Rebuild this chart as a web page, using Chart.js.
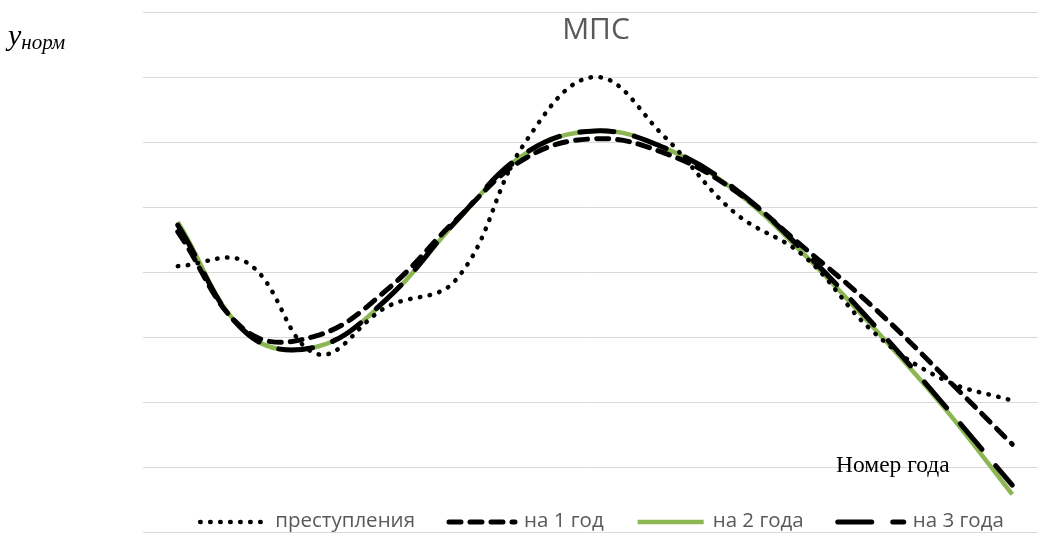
<!DOCTYPE html>
<html>
<head>
<meta charset="utf-8">
<script src="https://cdn.jsdelivr.net/npm/chart.js@4.4.0/dist/chart.umd.min.js"></script>
<style>
  body { margin: 0; background: #fff; }
  #wrap { position: relative; width: 1038px; height: 536px; }
  #title { position: absolute; left: 540px; width: 112px; top: 7px; text-align: center;
           font: 30px "Open Sans", sans-serif; color: #595959; }
  #ylab { position: absolute; left: 8px; top: 18px; font: italic 30px "Liberation Serif", serif; color: #000; }
  #ylab sub { font-size: 21px; vertical-align: -4px; }
  #xlab { position: absolute; left: 836px; top: 451px; font: 23.5px "Liberation Serif", serif; color: #000; }
</style>
</head>
<body>
<div id="wrap">
  <canvas id="myChart" width="1038" height="536"></canvas>
  <div id="title">МПС</div>
  <div id="ylab">y<sub>норм</sub></div>
  <div id="xlab">Номер года</div>
</div>
<script>
// year numbers
const years = [1, 2, 3, 4, 5, 6, 7, 8, 9, 10, 11, 12, 13];

// values (normalised units, grid step = 1)
const crimes = [4.09, 4.14, 2.74, 3.46, 3.88, 6.0, 7.0, 6.08, 4.92, 4.25, 3.08, 2.35, 2.02];
const forecast1 = [4.62, 3.08, 3.02, 3.72, 4.8, 5.75, 6.05, 5.83, 5.26, 4.38, 3.46, 2.42, 1.35];
const forecast2 = [4.77, 3.05, 2.85, 3.57, 4.77, 5.82, 6.17, 5.91, 5.26, 4.28, 3.15, 1.94, 0.58];
const forecast3 = [4.72, 3.05, 2.85, 3.58, 4.78, 5.83, 6.17, 5.91, 5.29, 4.32, 3.2, 1.98, 0.72];

const seriesNames = ["преступления", "на 1 год", "на 2 года", "на 3 года"];

function pts(arr) {
    return arr.map((v, i) => ({ x: years[i], y: v }));
}

// legend drawn at the bottom, over the plot area like in the original
const bottomLegend = {
    id: 'bottomLegend',
    afterDraw(chart) {
        const ctx = chart.ctx;
        const sampleW = 70, textGap = 7, itemGap = 32, yMid = 521;
        ctx.save();
        ctx.font = '20.5px "Open Sans", sans-serif';
        ctx.textBaseline = 'middle';
        const sets = chart.data.datasets;
        let total = 0;
        sets.forEach((ds, i) => {
            total += sampleW + textGap + ctx.measureText(ds.label).width;
            if (i < sets.length - 1) total += itemGap;
        });
        let x = 601 - total / 2;
        sets.forEach(ds => {
            ctx.beginPath();
            ctx.setLineDash(ds.borderDash || []);
            ctx.lineCap = ds.borderCapStyle || 'butt';
            ctx.lineWidth = ds.borderWidth;
            ctx.strokeStyle = ds.borderColor;
            ctx.moveTo(x + 2, yMid + 1);
            ctx.lineTo(x + sampleW - 2, yMid + 1);
            ctx.stroke();
            ctx.setLineDash([]);
            x += sampleW + textGap;
            ctx.fillStyle = '#595959';
            ctx.fillText(ds.label, x, yMid);
            x += ctx.measureText(ds.label).width + itemGap;
        });
        ctx.restore();
    }
};

new Chart("myChart", {
    type: "line",
    data: {
        datasets: [{
            label: seriesNames[0],
            data: pts(crimes),
            borderColor: "#000000",
            borderWidth: 4.5,
            borderDash: [0.5, 9.5],
            borderCapStyle: 'round',
            order: 0
        }, {
            label: seriesNames[1],
            data: pts(forecast1),
            borderColor: "#000000",
            borderWidth: 5,
            borderDash: [12, 9],
            borderCapStyle: 'round',
            order: 1
        }, {
            label: seriesNames[2],
            data: pts(forecast2),
            borderColor: "#8CB652",
            borderWidth: 4.5,
            order: 3
        }, {
            label: seriesNames[3],
            data: pts(forecast3),
            borderColor: "#000000",
            borderWidth: 5,
            borderDash: [34, 21],
            borderCapStyle: 'round',
            order: 2
        }]
    },
    options: {
        responsive: false,
        animation: false,
        layout: { padding: { left: 143, top: 12, right: 0, bottom: 4 } },
        elements: {
            line: { tension: 0.4, fill: false },
            point: { radius: 0, hoverRadius: 0 }
        },
        scales: {
            x: {
                type: 'linear',
                display: false,
                min: 0.5,
                max: 13.37
            },
            y: {
                min: 0,
                max: 8,
                ticks: { display: false, stepSize: 1 },
                grid: { color: '#d9d9d9', lineWidth: 1, drawTicks: false },
                border: { display: false }
            }
        },
        plugins: {
            legend: { display: false },
            tooltip: { enabled: false }
        }
    },
    plugins: [bottomLegend]
});
</script>
</body>
</html>
